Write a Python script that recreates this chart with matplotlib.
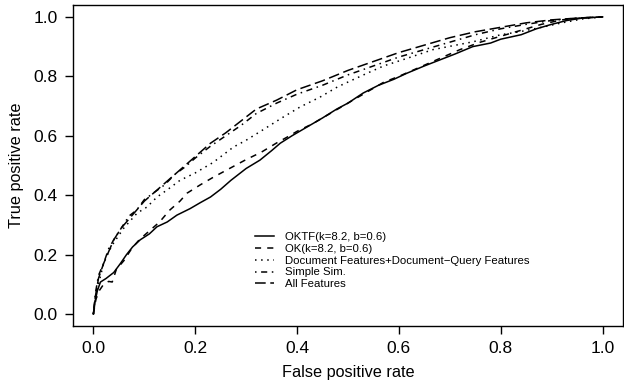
import numpy as np
import matplotlib
matplotlib.use("Agg")
import matplotlib.pyplot as plt

plt.rcParams["font.family"] = ["Liberation Sans", "DejaVu Sans"]

# ROC curves (fpr, tpr)
oktf_fpr = [0, .003, .008, .014, .025, .04, .053, .065, .077, .092, .11, .125, .145, .164,
            .19, .21, .23, .25, .27, .3, .327, .35, .367, .39, .42, .45, .478, .5, .53,
            .56, .59, .615, .65, .68, .71, .745, .78, .8, .84, .87, .9, .93, .96, 1.0]
oktf_tpr = [0, .04, .08, .108, .12, .14, .17, .2, .226, .25, .27, .294, .31, .333,
            .355, .375, .394, .42, .45, .49, .518, .55, .575, .6, .63, .66, .69, .71, .744,
            .77, .79, .81, .835, .855, .875, .9, .912, .925, .94, .96, .975, .988, .996, 1.0]

ok_fpr = [0, .005, .012, .02, .03, .037, .045, .06, .075, .09, .11, .13, .15, .17, .184,
          .21, .235, .262, .3, .33, .36, .38, .4, .43, .46, .5, .53, .57, .6, .64, .68,
          .72, .76, .8, .84, .88, .92, .96, 1.0]
ok_tpr = [0, .05, .08, .1, .11, .108, .15, .18, .22, .25, .28, .31, .35, .38, .407,
          .435, .46, .485, .52, .545, .576, .595, .615, .64, .67, .71, .74, .78, .8, .83, .86,
          .89, .915, .935, .955, .975, .99, .997, 1.0]

doc_fpr = [0, .005, .01, .02, .03, .04, .06, .086, .105, .125, .145, .17, .2, .235,
           .275, .3, .333, .37, .406, .445, .48, .537, .57, .615, .667, .745, .8, .837,
           .88, .92, .96, 1.0]
doc_tpr = [0, .06, .1, .17, .21, .24, .29, .34, .36, .394, .418, .45, .475, .51,
           .562, .585, .62, .66, .697, .73, .765, .81, .835, .86, .89, .916, .94, .95,
           .965, .98, .993, 1.0]

simple_fpr = [0, .004, .01, .02, .03, .04, .055, .07, .085, .1, .12, .14, .16, .18, .2,
              .23, .26, .29, .32, .36, .4, .45, .5, .55, .6, .65, .7, .75, .8, .85, .9,
              .95, 1.0]
simple_tpr = [0, .07, .13, .17, .22, .25, .29, .33, .35, .385, .41, .435, .47, .495, .525,
              .565, .6, .635, .675, .71, .74, .77, .805, .835, .865, .89, .915, .94, .96,
              .975, .988, .996, 1.0]

allf_fpr = [0, .004, .01, .02, .03, .04, .055, .07, .085, .1, .12, .14, .16, .18, .2,
            .23, .26, .29, .32, .36, .4, .45, .5, .55, .6, .65, .7, .75, .8, .85, .9,
            .95, 1.0]
allf_tpr = [0, .06, .12, .17, .21, .25, .29, .32, .35, .38, .41, .44, .47, .5, .53,
            .575, .61, .65, .69, .72, .755, .785, .82, .85, .88, .905, .93, .95, .965,
            .98, .99, .996, 1.0]

labels = ["OKTF(k=8.2, b=0.6)", "OK(k=8.2, b=0.6)",
          "Document Features+Document\u2212Query Features", "Simple Sim.", "All Features"]
ticks = [0.0, 0.2, 0.4, 0.6, 0.8, 1.0]

fig = plt.figure(figsize=(6.24, 3.83), dpi=100)
ax = fig.add_axes([73 / 624, 57 / 383, 550 / 624, 321 / 383])

lw = 1.1
ax.plot(oktf_fpr, oktf_tpr, color="black", lw=lw, linestyle="-", label=labels[0])
ax.plot(ok_fpr, ok_tpr, color="black", lw=lw, linestyle=(0, (4, 4)), label=labels[1])
ax.plot(doc_fpr, doc_tpr, color="black", lw=lw, linestyle=(0, (1, 3)), label=labels[2])
ax.plot(simple_fpr, simple_tpr, color="black", lw=lw, linestyle=(0, (1, 3, 4, 3)), label=labels[3])
ax.plot(allf_fpr, allf_tpr, color="black", lw=lw, linestyle=(0, (7, 3)), label=labels[4])

ax.set_xlim(-0.04, 1.04)
ax.set_ylim(-0.04, 1.04)
ax.set_xticks(ticks)
ax.set_yticks(ticks)
ax.set_xticklabels([f"{t:.1f}" for t in ticks])
ax.set_yticklabels([f"{t:.1f}" for t in ticks])
ax.tick_params(direction="out", length=6, width=1, pad=5, labelsize=12.5, colors="black")
for s in ax.spines.values():
    s.set_linewidth(1.0)

ax.set_xlabel("False positive rate", fontsize=11.7)
ax.set_ylabel("True positive rate", fontsize=11.7)
ax.xaxis.set_label_coords(0.5, -0.12)
ax.yaxis.set_label_coords(-0.089, 0.5)

ax.legend(loc="upper left", bbox_to_anchor=(0.33, 0.292), frameon=False,
          fontsize=8.2, borderpad=0, borderaxespad=0, labelspacing=0.15,
          handlelength=1.75, handletextpad=0.9, handleheight=0.6)

fig.savefig("out.png", dpi=100)
